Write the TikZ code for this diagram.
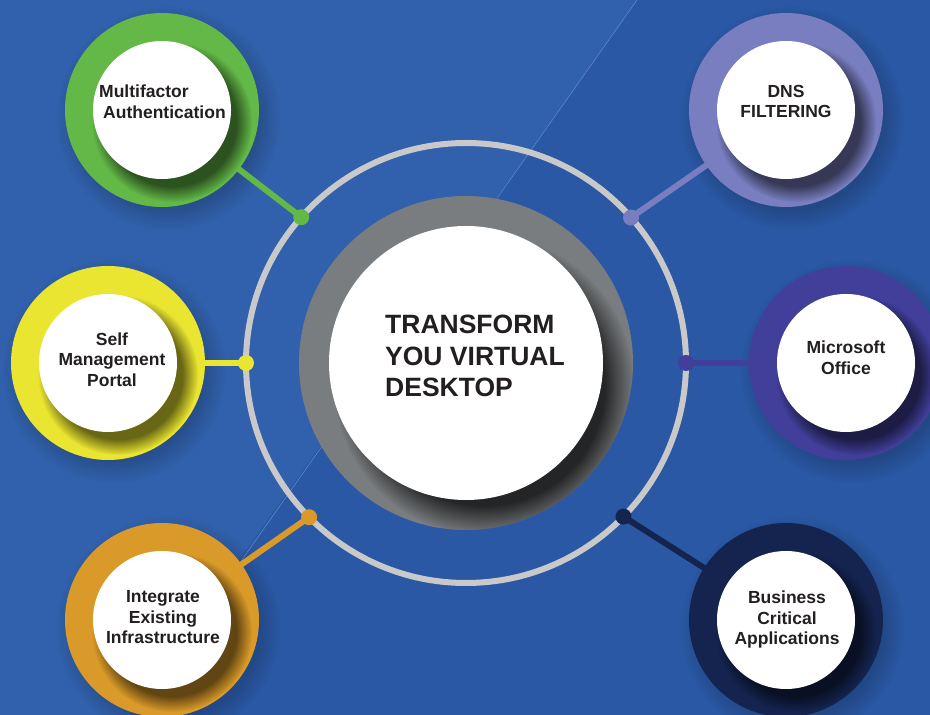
\documentclass[tikz,border=0pt]{standalone}
\usepackage{fontspec}
\setmainfont{Liberation Sans}
\usetikzlibrary{calc,fadings}

\definecolor{bgleft}{HTML}{3161AC}
\definecolor{bgright}{HTML}{2A58A4}
\definecolor{seam}{HTML}{6A8DC8}
\definecolor{ringgray}{HTML}{C9C9C9}
\definecolor{hubgray}{HTML}{7A7D80}
\definecolor{ink}{HTML}{231F20}
\definecolor{mfagreen}{HTML}{63B847}
\definecolor{smpyellow}{HTML}{EAE530}
\definecolor{ieiorange}{HTML}{D99A29}
\definecolor{dnslilac}{HTML}{787EC0}
\definecolor{msopurple}{HTML}{413F9A}
\definecolor{bcanavy}{HTML}{14244F}

\begin{document}
\begin{tikzpicture}[x=1pt, y=1pt,
  link/.style = {line width=6pt},
  pin/.style = {circle, inner sep=0pt, minimum size=16pt},
  face/.style = {circle, fill=white, inner sep=0pt},
  item/.style = {align=center, inner sep=0pt, text=ink,
    font=\fontsize{17.5}{20.5}\selectfont\bfseries}]
  \useasboundingbox (0,0) rectangle (930,715);

  % background
  \fill[bgright] (0,0) rectangle (930,715);
  \fill[bgleft] (0,0) -- (0,715) -- (637,715) -- (129,0) -- cycle;
  \draw[seam, line width=0.5pt] (637,715) -- (241,154);

  \coordinate (hub) at (466,352);
  \coordinate (mfa) at (162,605);
  \coordinate (smp) at (108,352);
  \coordinate (iei) at (162,95);
  \coordinate (dns) at (786,605);
  \coordinate (mso) at (846,352);
  \coordinate (bca) at (786,95);

  \foreach \s in {mfa,smp,iei,dns,mso,bca}
    \fill[black, opacity=.18, path fading=circle with fuzzy edge 20 percent]
      ($(\s)+(6,-8)$) circle (112);

  \draw[ringgray, line width=6pt] (hub) circle (220);

  % spokes from the ring out to the discs
  \foreach \s/\a/\c in {mfa/138.5/mfagreen, smp/180/smpyellow, iei/224.5/ieiorange,
                        dns/41.4/dnslilac, mso/0/msopurple, bca/-44.3/bcanavy}
    \draw[link, \c] (\s) -- ($(hub)+(\a:220)$) node[pin, fill=\c] (\s-pin) {};

  % outer discs
  \foreach \s/\c in {mfa/mfagreen, smp/smpyellow, iei/ieiorange,
                     dns/dnslilac, mso/msopurple, bca/bcanavy} {
    \fill[\c] (\s) circle (97);
    \begin{scope}
      \clip (\s) circle (97);
      \fill[black, opacity=.55, path fading=circle with fuzzy edge 20 percent]
        ($(\s)+(10,-12)$) circle (80);
    \end{scope}
    \node[face, minimum size=138pt] (\s-face) at (\s) {};
  }

  % centre disc
  \fill[hubgray] (hub) circle (167);
  \begin{scope}
    \clip (hub) circle (167);
    \fill[black, opacity=.7, path fading=circle with fuzzy edge 20 percent]
      ($(hub)+(18,-22)$) circle (150);
  \end{scope}
  \node[face, minimum size=274pt] (core) at (hub) {};

  \node[item, align=left, anchor=west, font=\fontsize{26.5}{31.5}\selectfont\bfseries]
    (title) at (385,359) {TRANSFORM\\YOU VIRTUAL\\DESKTOP};
  \node[item, align=left, anchor=west] (mfa-text) at (99,613)
    {Multifactor\\\hspace{4pt}Authentication};
  \node[item] (smp-text) at (112,355.5) {Self\\Management\\Portal};
  \node[item] (iei-text) at (163,97.5) {Integrate\\Existing\\Infrastructure};
  \node[item] (dns-text) at (786,613.5) {DNS\\FILTERING};
  \node[item] (mso-text) at (846,357) {Microsoft\\Office};
  \node[item] (bca-text) at (787,95.5) {Business\\Critical\\Applications};
\end{tikzpicture}
\end{document}
